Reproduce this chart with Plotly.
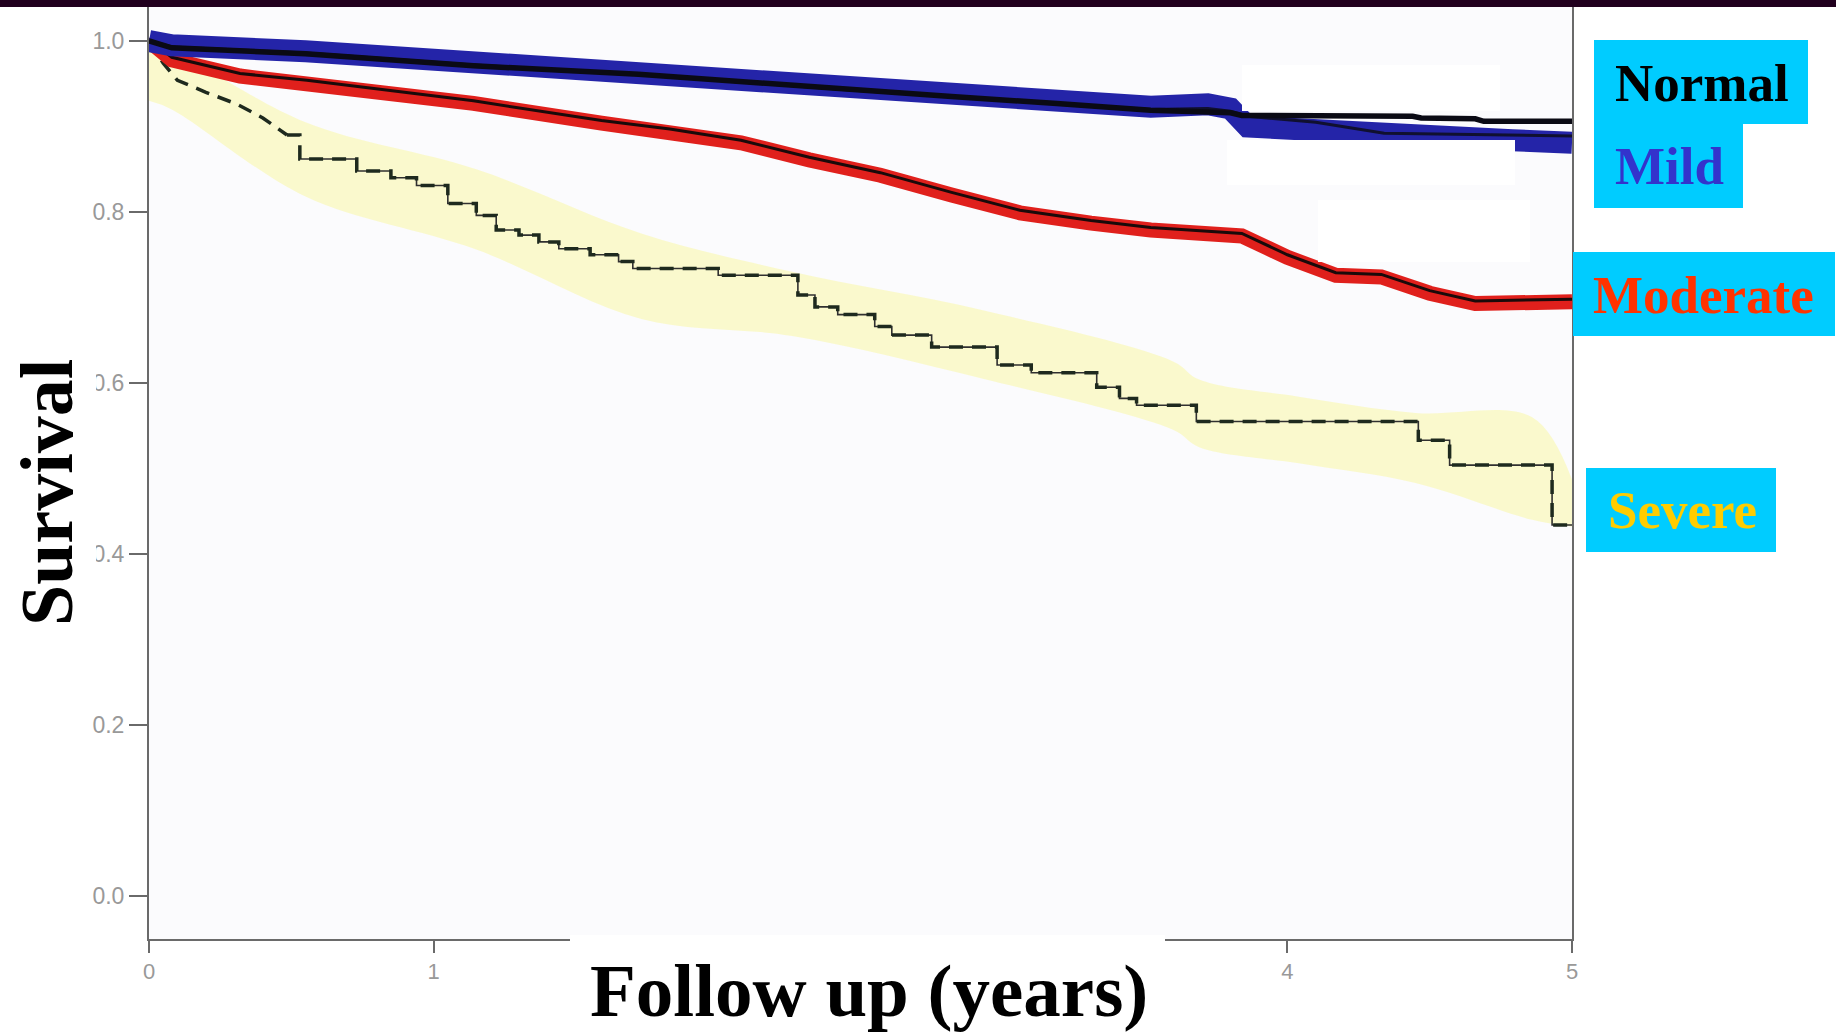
import plotly.graph_objects as go

# ---------------- data ----------------
normal_x = [0, 0.08, 0.55, 1.14, 1.72, 2.08, 2.45, 2.82, 3.19, 3.52, 3.80, 3.84, 4.44, 4.47, 4.66, 4.69, 5.0]
normal_y = [1.0, 0.992, 0.985, 0.971, 0.961, 0.952, 0.943, 0.935, 0.927, 0.919, 0.916, 0.913, 0.912, 0.910,
            0.909, 0.906, 0.906]

mild_x = [0, 0.08, 0.55, 1.14, 1.72, 2.08, 2.45, 2.82, 3.19, 3.52, 3.72, 3.80, 3.86, 4.10, 4.34, 4.79, 5.0]
mild_line_y = [1.0, 0.993, 0.986, 0.972, 0.961, 0.952, 0.943, 0.935, 0.927, 0.920, 0.921, 0.918, 0.912,
               0.905, 0.892, 0.890, 0.889]
mild_band_y = [1.0, 0.995, 0.988, 0.975, 0.963, 0.954, 0.945, 0.937, 0.929, 0.923, 0.926, 0.921, 0.900,
               0.895, 0.888, 0.884, 0.881]

moderate_x = [0, 0.08, 0.32, 0.555, 1.14, 1.59, 1.83, 2.08, 2.32, 2.57, 2.82, 3.06, 3.31, 3.52,
              3.84, 4.0, 4.17, 4.33, 4.5, 4.66, 5.0]
moderate_y = [1.0, 0.978, 0.959, 0.951, 0.927, 0.904, 0.894, 0.881, 0.861, 0.843, 0.820, 0.799, 0.787, 0.779,
              0.772, 0.747, 0.726, 0.724, 0.705, 0.693, 0.695]

severe_x = [0, 0.05, 0.10, 0.20, 0.31, 0.40, 0.485, 0.53, 0.73, 0.85, 0.94, 1.05, 1.15, 1.22, 1.30, 1.37,
            1.44, 1.55, 1.65, 1.70, 2.00, 2.28, 2.34, 2.42, 2.55, 2.61, 2.75, 2.98, 3.10, 3.33, 3.41,
            3.47, 3.68, 4.46, 4.57, 4.93, 5.0]
severe_y = [1.0, 0.974, 0.954, 0.940, 0.926, 0.910, 0.890, 0.862, 0.848, 0.840, 0.831, 0.810, 0.796, 0.779,
            0.773, 0.765, 0.757, 0.750, 0.742, 0.734, 0.726, 0.703, 0.689, 0.680, 0.666, 0.656, 0.642,
            0.621, 0.612, 0.595, 0.582, 0.574, 0.555, 0.533, 0.504, 0.434, 0.434]

band_x = [0, 0.08, 0.55, 1.15, 1.73, 2.26, 2.93, 3.6, 3.69, 4.04, 4.45, 4.86, 5.0]
band_upper = [1.0, 0.99, 0.905, 0.85, 0.775, 0.73, 0.685, 0.625, 0.604, 0.584, 0.565, 0.56, 0.487]
band_lower = [0.93, 0.92, 0.818, 0.756, 0.675, 0.655, 0.605, 0.545, 0.525, 0.506, 0.483, 0.44, 0.432]

y_ticks = [0.0, 0.2, 0.4, 0.6, 0.8, 1.0]
y_ticktext = ["0.0", "0.2", "0.4", "0.6", "0.8", "1.0"]
x_ticks = [0, 1, 2, 3, 4, 5]
x_ticktext = ["0", "1", "", "", "4", "5"]   # 2 and 3 are hidden under the title box in the original

legend_names = ["Normal", "Mild", "Moderate", "Severe"]
legend_colors = ["#000000", "#3333CC", "#FF3300", "#FFCC00"]

# ---------------- layout geometry (pixels) ----------------
W, H = 1836, 1035
L, R, T, B = 149, 1572, 7, 939
PW, PH = R - L, B - T


def px(X):
    return (X - L) / PW


def py(Y):
    return (B - Y) / PH


fig = go.Figure()

# yellow highlight band for Severe
fig.add_trace(go.Scatter(x=band_x, y=band_upper, mode="lines", line=dict(width=0, color="rgba(0,0,0,0)"),
                         line_shape="spline", hoverinfo="skip", showlegend=False))
fig.add_trace(go.Scatter(x=band_x, y=band_lower, mode="lines", line=dict(width=0, color="rgba(0,0,0,0)"),
                         line_shape="spline", fill="tonexty", fillcolor="rgba(250,248,165,0.55)",
                         hoverinfo="skip", showlegend=False))

# Severe lines: thin solid step line + thick dashed line
i0 = 7
fig.add_trace(go.Scatter(x=severe_x[i0:], y=severe_y[i0:], mode="lines", line_shape="hv",
                         line=dict(color="#303030", width=1.6), showlegend=False))
fig.add_trace(go.Scatter(x=severe_x[:i0], y=severe_y[:i0], mode="lines", line_shape="linear",
                         line=dict(color="#1e2a1e", width=3.5, dash="14px,9px"), showlegend=False))
fig.add_trace(go.Scatter(x=severe_x[i0 - 1:], y=severe_y[i0 - 1:], mode="lines", line_shape="hv",
                         line=dict(color="#1e2a1e", width=3.5, dash="14px,9px"), showlegend=False))

# Moderate: red highlight + black line
fig.add_trace(go.Scatter(x=moderate_x, y=moderate_y, mode="lines",
                         line=dict(color="#E0201C", width=15), showlegend=False))
fig.add_trace(go.Scatter(x=moderate_x, y=[v + 0.003 for v in moderate_y], mode="lines",
                         line=dict(color="#1a0a0a", width=3), showlegend=False))

# Mild: blue highlight + black line
fig.add_trace(go.Scatter(x=mild_x, y=mild_band_y, mode="lines",
                         line=dict(color="#2424A8", width=22), showlegend=False))
fig.add_trace(go.Scatter(x=mild_x, y=mild_line_y, mode="lines",
                         line=dict(color="#101030", width=3), showlegend=False))

# Normal: black line
fig.add_trace(go.Scatter(x=normal_x, y=normal_y, mode="lines",
                         line=dict(color="#0a0a14", width=5.5), showlegend=False))

shapes = []
# top dark bar
shapes.append(dict(type="rect", xref="paper", yref="paper", x0=px(0), x1=px(W), y0=py(7), y1=py(0),
                   fillcolor="#21001e", line=dict(width=0), layer="above"))
# white erasures over the plot
for (x0, y0, x1, y1) in [(1242, 65, 1500, 111), (1227, 140, 1515, 185), (1318, 200, 1530, 262)]:
    shapes.append(dict(type="rect", xref="paper", yref="paper", x0=px(x0), x1=px(x1), y0=py(y1), y1=py(y0),
                       fillcolor="#FFFFFF", line=dict(width=0), layer="above"))
# white box behind the x title
shapes.append(dict(type="rect", xref="paper", yref="paper", x0=px(570), x1=px(1165), y0=py(1035), y1=py(935),
                   fillcolor="#FFFFFF", line=dict(width=0), layer="above"))
# white box behind the y title
shapes.append(dict(type="rect", xref="paper", yref="paper", x0=px(0), x1=px(96), y0=py(650), y1=py(337),
                   fillcolor="#FFFFFF", line=dict(width=0), layer="above"))
# legend boxes
legend_boxes = [(1594, 40, 1808, 124), (1594, 124, 1743, 208), (1573, 252, 1835, 336), (1586, 468, 1776, 552)]
for (x0, y0, x1, y1) in legend_boxes:
    shapes.append(dict(type="rect", xref="paper", yref="paper", x0=px(x0), x1=px(x1), y0=py(y1), y1=py(y0),
                       fillcolor="#00CCFF", line=dict(width=0), layer="above"))

annotations = []
legend_text_pos = [(1702, 83), (1669, 166), (1703, 295), (1682, 510)]
for name, col, (X, Y) in zip(legend_names, legend_colors, legend_text_pos):
    annotations.append(dict(text="<b>%s</b>" % name, xref="paper", yref="paper", x=px(X), y=py(Y),
                            xanchor="center", yanchor="middle", showarrow=False,
                            font=dict(family="Liberation Serif", size=53, color=col)))

annotations.append(dict(text="<b>Follow up (years)</b>", xref="paper", yref="paper", x=px(869), y=py(1034),
                        xanchor="center", yanchor="bottom", showarrow=False,
                        font=dict(family="Liberation Serif", size=75, color="#000000")))
annotations.append(dict(text="<b>Survival</b>", xref="paper", yref="paper", x=px(47), y=py(492),
                        xanchor="center", yanchor="middle", showarrow=False, textangle=-90,
                        font=dict(family="Liberation Serif", size=74, color="#000000")))

fig.update_layout(
    width=W, height=H,
    margin=dict(l=L, r=W - R, t=T, b=H - B),
    paper_bgcolor="#FFFFFF", plot_bgcolor="#FBFBFD",
    shapes=shapes, annotations=annotations,
    showlegend=False,
)
fig.update_xaxes(range=[0, 5], tickvals=x_ticks, ticktext=x_ticktext, ticks="outside", ticklen=12,
                 tickwidth=2, tickcolor="#6a6a6a", showline=True, linecolor="#6a6a6a", linewidth=2,
                 showgrid=False, zeroline=False,
                 tickfont=dict(family="Liberation Sans", size=22, color="#999999"))
fig.update_yaxes(range=[(B - 896) / -855.0 * 1.0, 1.0 + (41 - T) / 855.0], tickvals=y_ticks,
                 ticktext=y_ticktext, ticks="outside", ticklen=18, tickwidth=2, tickcolor="#6a6a6a",
                 showline=True, linecolor="#6a6a6a", linewidth=2, mirror=True,
                 showgrid=False, zeroline=False,
                 tickfont=dict(family="Liberation Sans", size=23, color="#999999"))

fig.write_html("out.html")
